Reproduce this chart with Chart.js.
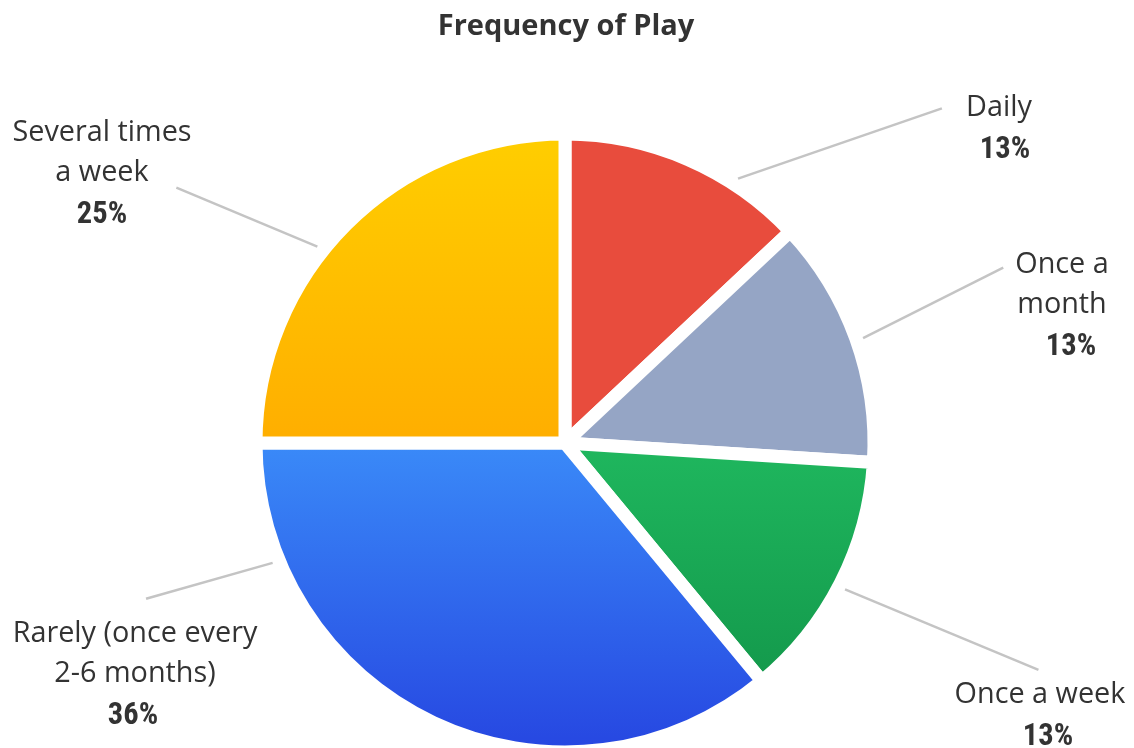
<!DOCTYPE html>
<html>
<head>
<meta charset="utf-8">
<title>Frequency of Play</title>
<style>
  html, body { margin: 0; padding: 0; background: #fff; overflow: hidden; }
  canvas { display: block; }
</style>
<script src="https://cdn.jsdelivr.net/npm/chart.js@4.4.1/dist/chart.umd.min.js"></script>
</head>
<body>
<canvas id="playChart" width="1134" height="748"></canvas>
<script>
// Survey answers, clockwise from twelve o'clock
const categories = ['Daily', 'Once a month', 'Once a week', 'Rarely (once every 2-6 months)', 'Several times a week'];
const shares = [13, 13, 13, 36, 25];
// How each category name is broken over lines next to the pie
const labelLines = [['Daily'], ['Once a', 'month'], ['Once a week'], ['Rarely (once every', '2-6 months)'], ['Several times', 'a week']];
const chartTitle = 'Frequency of Play';

// Styling
const PIE_RADIUS = 309;
const TEXT_COLOR = '#333333';
const LEADER_COLOR = '#c4c4c4';
const LABEL_FONT = '28.8px "Open Sans", sans-serif';
const PCT_FONT = 'bold 30.5px "Roboto Condensed", "Liberation Sans Narrow", "DejaVu Sans Condensed", sans-serif';
const TITLE_FONT = 'bold 29px "Open Sans", sans-serif';

// Callout placement, in polar terms around the pie centre (deg clockwise from top)
// a0/r0: where the leader starts, a1/r1: where it ends; dx/dy: first text baseline
const callouts = [
  { a0: 33.2,  r0: 316, a1: 48.4,  r1: 504, dx: 434,  dy: -327, pctDx: 6 },
  { a0: 70.6,  r0: 316, a1: 68.2,  r1: 472, dx: 497,  dy: -170, pctDx: 9 },
  { a0: 117.6, r0: 316, a1: 115.6, r1: 525, dx: 475,  dy: 260,  pctDx: 8 },
  { a0: 247.7, r0: 316, a1: 249.6, r1: 447, dx: -430, dy: 199,  pctDx: -2 },
  { a0: 308.4, r0: 316, a1: 303.3, r1: 465, dx: -463, dy: -302, pctDx: 0 }
];

// Slice fills: flat for red/grey, top-to-bottom shading for the others
const fillStops = [
  [[0, '#E84C3D'], [1, '#E84C3D']],
  [[0, '#95A5C5'], [1, '#95A5C5']],
  [[0.5, '#1FB75E'], [0.9, '#13984B']],
  [[0.5, '#3A8AF8'], [1, '#2646E1']],
  [[0, '#FFCE00'], [0.5, '#FFAE00']]
];

function sliceFill(context) {
  const chart = context.chart;
  const area = chart.chartArea;
  const stops = fillStops[context.dataIndex];
  if (!area) return stops[0][1];
  const cy = (area.top + area.bottom) / 2;
  const g = chart.ctx.createLinearGradient(0, cy - PIE_RADIUS, 0, cy + PIE_RADIUS);
  stops.forEach(([p, c]) => g.addColorStop(p, c));
  return g;
}

function polar(cx, cy, deg, r) {
  const t = deg * Math.PI / 180;
  return [cx + r * Math.sin(t), cy - r * Math.cos(t)];
}

const calloutPlugin = {
  id: 'callouts',
  afterDraw(chart) {
    const ctx = chart.ctx;
    const meta = chart.getDatasetMeta(0);
    const arc = meta.data[0];
    const cx = arc.x, cy = arc.y;

    ctx.save();
    // title
    ctx.fillStyle = TEXT_COLOR;
    ctx.textAlign = 'center';
    ctx.textBaseline = 'alphabetic';
    ctx.font = TITLE_FONT;
    ctx.fillText(chartTitle, chart.width / 2 - 1, 35);

    meta.data.forEach((el, i) => {
      const c = callouts[i];
      const [x0, y0] = polar(cx, cy, c.a0, c.r0);
      const [x1, y1] = polar(cx, cy, c.a1, c.r1);
      ctx.strokeStyle = LEADER_COLOR;
      ctx.lineWidth = 2.5;
      ctx.beginPath();
      ctx.moveTo(x0, y0);
      ctx.lineTo(x1, y1);
      ctx.stroke();

      const tx = cx + c.dx;
      let ty = cy + c.dy;
      ctx.fillStyle = TEXT_COLOR;
      ctx.font = LABEL_FONT;
      labelLines[i].forEach((line, k) => {
        ctx.fillText(line, tx, ty + k * 40);
      });
      ctx.font = PCT_FONT;
      const value = chart.data.datasets[0].data[i];
      ctx.fillText(value + '%', tx + c.pctDx, ty + (labelLines[i].length - 1) * 40 + 42);
    });
    ctx.restore();
  }
};

function build() {
  new Chart(document.getElementById('playChart'), {
    type: 'pie',
    data: {
      labels: categories,
      datasets: [{
        data: shares,
        backgroundColor: sliceFill,
        borderColor: '#ffffff',
        borderWidth: 13,
        hoverOffset: 0,
        hoverBorderWidth: 13,
        radius: PIE_RADIUS,
        clip: false
      }]
    },
    options: {
      responsive: false,
      devicePixelRatio: 1,
      animation: false,
      events: [],
      layout: { padding: { top: 138, left: 0, right: 4, bottom: 0 } },
      plugins: {
        legend: { display: false },
        tooltip: { enabled: false },
        title: { display: false }
      }
    },
    plugins: [calloutPlugin]
  });
}

Promise.all([
  document.fonts.load(LABEL_FONT),
  document.fonts.load(PCT_FONT),
  document.fonts.load(TITLE_FONT)
]).then(build, build);
</script>
</body>
</html>
